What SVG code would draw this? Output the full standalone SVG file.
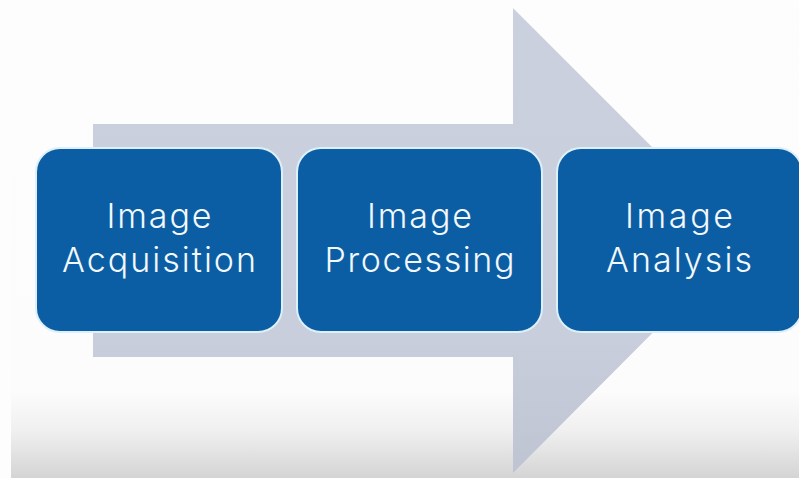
<svg xmlns="http://www.w3.org/2000/svg" width="799" height="478" viewBox="0 0 799 478">
  <defs>
    <linearGradient id="bg" x1="0" y1="0" x2="0" y2="1">
      <stop offset="0" stop-color="#fdfdfd"/>
      <stop offset="0.82" stop-color="#fcfcfc"/>
      <stop offset="0.9" stop-color="#f0f0f0"/>
      <stop offset="1" stop-color="#d4d4d4"/>
    </linearGradient>
    <linearGradient id="arrowFill" x1="0" y1="0" x2="0" y2="1">
      <stop offset="0" stop-color="#cbd0de"/>
      <stop offset="0.7" stop-color="#c9cedc"/>
      <stop offset="1" stop-color="#bfc4d2"/>
    </linearGradient>
    <style>
      .step { fill: #0b5ea3; stroke: #dcf0fa; stroke-width: 2; }
      .label { fill: #f2f8fc; font-family: Inter, "Open Sans", "Liberation Sans", sans-serif; font-weight: 300; font-size: 34px; text-anchor: middle; }
    </style>
  </defs>

  <!-- background -->
  <rect x="0" y="0" width="799" height="478" fill="#fdfdfd"/>
  <rect x="11" y="0" width="788" height="478" fill="url(#bg)"/>

  <!-- large process arrow behind the steps -->
  <g id="connectors">
    <polygon points="93,124 513,124 513,8 745,240 513,473 513,357 93,357" fill="url(#arrowFill)"/>
  </g>

  <g id="step-acquisition">
    <rect class="step" x="36" y="148" width="246" height="184" rx="24"/>
    <text class="label" x="159" y="228" textLength="105" lengthAdjust="spacing">Image</text>
    <text class="label" x="159" y="272" textLength="194" lengthAdjust="spacing">Acquisition</text>
  </g>

  <g id="step-processing">
    <rect class="step" x="297" y="148" width="245" height="184" rx="24"/>
    <text class="label" x="419.5" y="228" textLength="105" lengthAdjust="spacing">Image</text>
    <text class="label" x="419.5" y="272" textLength="190" lengthAdjust="spacing">Processing</text>
  </g>

  <g id="step-analysis">
    <rect class="step" x="557" y="148" width="245" height="184" rx="24"/>
    <text class="label" x="679" y="228" textLength="108" lengthAdjust="spacing">Image</text>
    <text class="label" x="679" y="272" textLength="146" lengthAdjust="spacing">Analysis</text>
  </g>
</svg>
